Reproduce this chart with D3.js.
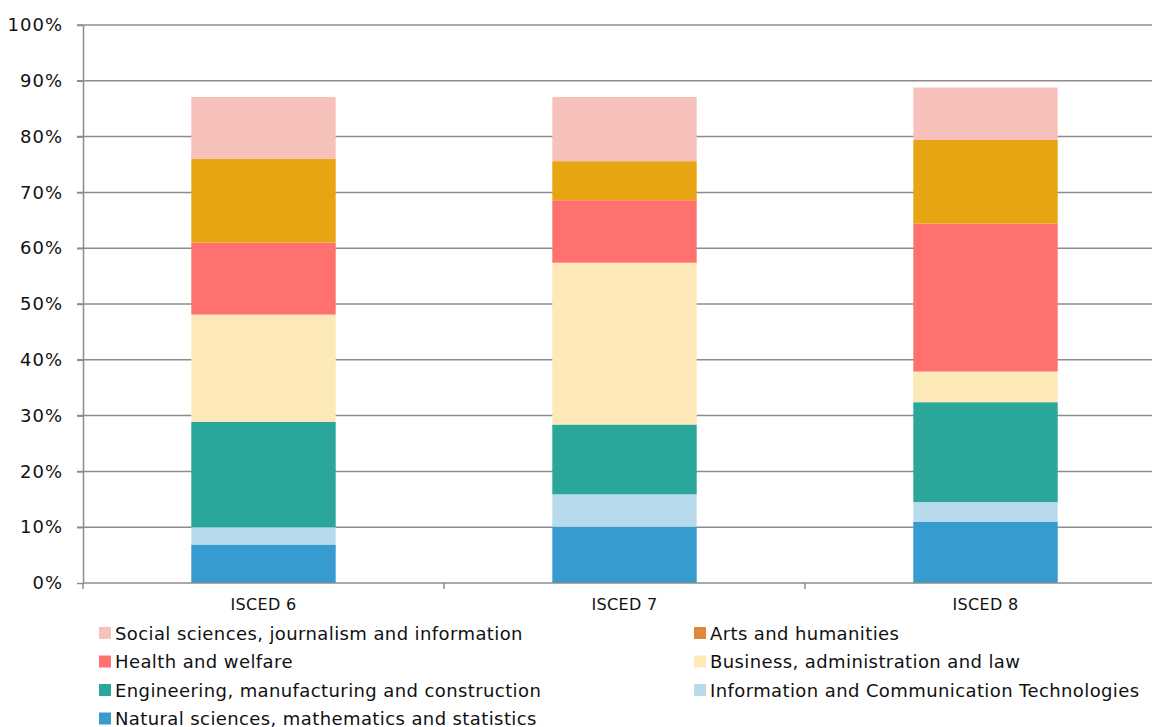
<!DOCTYPE html>
<html><head><meta charset="utf-8">
<script src="https://cdn.jsdelivr.net/npm/d3@7"></script>
<style>body{margin:0;background:#fff;font-family:"DejaVu Sans",Verdana,sans-serif;}</style>
</head><body><svg id="c" width="1152" height="727"></svg>
<script>
const categories = ["ISCED 6", "ISCED 7", "ISCED 8"];
const seriesNames = [
  "Natural sciences, mathematics and statistics",
  "Information and Communication Technologies",
  "Engineering, manufacturing and construction",
  "Business, administration and law",
  "Health and welfare",
  "Arts and humanities",
  "Social sciences, journalism and information"
];
const natural = [6.9, 10.1, 11.0];
const ict = [3.1, 5.8, 3.5];
const engineering = [18.9, 12.5, 17.9];
const business = [19.2, 29.0, 5.5];
const health = [12.9, 11.2, 26.5];
const arts = [15.0, 7.0, 15.0];
const social = [11.1, 11.5, 9.4];
const yTicks = [0, 10, 20, 30, 40, 50, 60, 70, 80, 90, 100];
const barColors = ["#369bcf", "#b7dbed", "#2aa69a", "#fde9b8", "#ff716e", "#e8a513", "#f7c1bb"];
const legendColors = ["#369bcf", "#b7dbed", "#2aa69a", "#fde9b8", "#ff716e", "#df873b", "#f7c1bb"];
const legendOrder = [6, 5, 4, 3, 2, 1, 0];

(function () {
const values = [natural, ict, engineering, business, health, arts, social];
const rows = categories.map((c, i) => {
  const r = {cat: c};
  seriesNames.forEach((s, k) => r[s] = values[k][i]);
  return r;
});
const stack = d3.stack().keys(seriesNames)(rows);

const svg = d3.select("#c");
const mLeft = 83, mRight = 1166, mTop = 25, mBottom = 583;
const x = d3.scaleBand().domain(categories).range([mLeft, mRight]).paddingInner(0.6).paddingOuter(0.3);
const y = d3.scaleLinear().domain([0, 100]).range([mBottom, mTop]);
const gridColor = "#8c8c8c";

svg.append("g").selectAll("line").data(yTicks.filter(t => t > 0)).join("line")
  .attr("x1", mLeft - 6).attr("x2", 1152)
  .attr("y1", d => y(d)).attr("y2", d => y(d))
  .attr("stroke", gridColor).attr("stroke-width", 1.5);

svg.append("g").selectAll("g").data(stack).join("g")
  .attr("fill", (d, i) => barColors[i])
  .selectAll("rect").data(d => d).join("rect")
  .attr("x", d => x(d.data.cat))
  .attr("width", x.bandwidth())
  .attr("y", d => y(d[1]))
  .attr("height", d => y(d[0]) - y(d[1]));

const yAxis = svg.append("g").attr("transform", `translate(${mLeft},0)`)
  .call(d3.axisLeft(y).tickValues(yTicks).tickFormat(d => d + "%").tickSize(6).tickSizeOuter(0));
yAxis.select(".domain").attr("stroke", gridColor).attr("stroke-width", 1.5);
yAxis.selectAll(".tick line").attr("stroke", gridColor).attr("stroke-width", 1.5);
yAxis.selectAll(".tick text").attr("font-size", 18).attr("letter-spacing", "1px")
  .attr("font-family", "DejaVu Sans").attr("fill", "#111").attr("x", -20);

svg.append("line").attr("x1", mLeft).attr("x2", 1152).attr("y1", mBottom).attr("y2", mBottom)
  .attr("stroke", gridColor).attr("stroke-width", 1.5);
const sep = d3.range(categories.length + 1).map(i => mLeft + i * x.step());
svg.append("g").selectAll("line").data(sep).join("line")
  .attr("x1", d => d).attr("x2", d => d).attr("y1", mBottom).attr("y2", mBottom + 6)
  .attr("stroke", gridColor).attr("stroke-width", 1.5);
svg.append("g").selectAll("text").data(categories).join("text")
  .attr("x", d => x(d) + x.bandwidth() / 2).attr("y", 610)
  .attr("text-anchor", "middle").attr("font-size", 16).attr("letter-spacing", "0.3px")
  .attr("fill", "#111").text(d => d);

const lg = svg.append("g");
legendOrder.forEach((si, j) => {
  const col = j % 2, row = Math.floor(j / 2);
  const lx = col === 0 ? 99 : 694, ly = 633 + row * 28.5;
  lg.append("rect").attr("x", lx).attr("y", ly - 6).attr("width", 12).attr("height", 12).attr("fill", legendColors[si]);
  lg.append("text").attr("x", lx + 16).attr("y", ly + 6.5).attr("font-size", 18)
    .attr("letter-spacing", "0.4px").attr("fill", "#111").text(seriesNames[si]);
});
})();
</script></body></html>
